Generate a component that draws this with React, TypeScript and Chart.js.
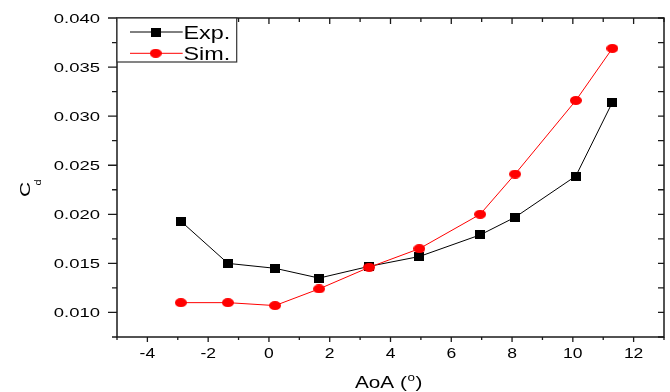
import React, { useEffect, useRef } from 'react';
import { Chart, registerables } from 'chart.js';

Chart.register(...registerables);

// Drag coefficient vs. angle of attack
const aoa = [-2.9, -1.35, 0.2, 1.65, 3.3, 4.95, 6.95, 8.1, 10.1, 11.3];
const cdExp = [0.0193, 0.015, 0.0145, 0.0135, 0.0147, 0.0157, 0.0179, 0.0197, 0.0239, 0.0314];
const cdSim = [0.011, 0.011, 0.0107, 0.0124, 0.0146, 0.0165, 0.02, 0.0241, 0.0316, 0.0369];
const seriesNames = ['Exp.', 'Sim.'];
const xMajorTicks = [-4, -2, 0, 2, 4, 6, 8, 10, 12];
const yMajorTicks = [0.01, 0.015, 0.02, 0.025, 0.03, 0.035, 0.04];

const FONT = '"Liberation Sans", Arial, sans-serif';
const AXIS_COLOR = '#1a1a1a';

function makeMarker(kind: 'square' | 'ellipse', color: string, w: number, h: number) {
  const c = document.createElement('canvas');
  c.width = w;
  c.height = h;
  const g = c.getContext('2d')!;
  g.fillStyle = color;
  if (kind === 'square') {
    g.fillRect(0, 0, w, h);
  } else {
    g.beginPath();
    g.ellipse(w / 2, h / 2, w / 2, h / 2, 0, 0, Math.PI * 2);
    g.fill();
  }
  return c;
}

function stretchedText(
  ctx: CanvasRenderingContext2D,
  text: string,
  x: number,
  y: number,
  font: string,
  sx: number,
  align: CanvasTextAlign
) {
  ctx.save();
  ctx.translate(x, y);
  ctx.scale(sx, 1);
  ctx.font = font;
  ctx.textAlign = align;
  ctx.textBaseline = 'alphabetic';
  ctx.fillText(text, 0, 0);
  ctx.restore();
}

const framePlugin = {
  id: 'originFrame',
  afterDraw(chart: any) {
    const ctx: CanvasRenderingContext2D = chart.ctx;
    const { left, right, top, bottom } = chart.chartArea;
    const xs = chart.scales.x;
    const ys = chart.scales.y;
    ctx.save();

    // axis box
    ctx.strokeStyle = AXIS_COLOR;
    ctx.lineWidth = 1.5;
    ctx.strokeRect(left, top, right - left, bottom - top);

    // y ticks: majors every 0.005, minors every 0.0025
    ctx.lineWidth = 1.3;
    for (let i = 0; ; i++) {
      const v = ys.min + i * 0.0025;
      if (v > ys.max + 1e-9) break;
      const py = ys.getPixelForValue(v);
      const major = yMajorTicks.some((t) => Math.abs(t - v) < 1e-9);
      ctx.beginPath();
      ctx.moveTo(left, py);
      ctx.lineTo(left - (major ? 9 : 5), py);
      ctx.moveTo(right, py);
      ctx.lineTo(right - 6, py);
      ctx.stroke();
    }
    // x ticks: majors every 2, minors every 1
    for (let v = xs.min; v <= xs.max + 1e-9; v += 1) {
      const px = xs.getPixelForValue(v);
      const major = xMajorTicks.includes(v);
      ctx.beginPath();
      ctx.moveTo(px, bottom);
      ctx.lineTo(px, bottom + (major ? 5 : 3));
      ctx.moveTo(px, top);
      ctx.lineTo(px, top + (major ? 6 : 4));
      ctx.stroke();
    }

    // tick labels
    ctx.fillStyle = '#000';
    ys.ticks.forEach((t: any) => {
      const py = ys.getPixelForValue(t.value);
      stretchedText(ctx, t.value.toFixed(3), 100, py + 4.7, `13px ${FONT}`, 1.42, 'right');
    });
    xs.ticks.forEach((t: any) => {
      const px = xs.getPixelForValue(t.value);
      stretchedText(ctx, String(t.value), px, 358, `14px ${FONT}`, 1.25, 'center');
    });

    // x title: AoA (°)
    ctx.save();
    ctx.translate(355, 388);
    ctx.scale(1.22, 1);
    ctx.font = `17px ${FONT}`;
    ctx.textBaseline = 'alphabetic';
    ctx.textAlign = 'left';
    const head = 'AoA (';
    const w1 = ctx.measureText(head).width;
    ctx.fillText(head, 0, 0);
    ctx.font = `11px ${FONT}`;
    const wo = ctx.measureText('o').width;
    ctx.fillText('o', w1 + 0.5, -7);
    ctx.font = `17px ${FONT}`;
    ctx.fillText(')', w1 + wo + 1, 0);
    ctx.restore();

    // y title: C with subscript d
    ctx.save();
    ctx.translate(30, 197);
    ctx.rotate(-Math.PI / 2);
    ctx.scale(1, 0.72);
    ctx.font = `21px ${FONT}`;
    ctx.textBaseline = 'alphabetic';
    ctx.fillText('C', 0, 0);
    ctx.restore();
    ctx.save();
    ctx.translate(41, 185.5);
    ctx.rotate(-Math.PI / 2);
    ctx.scale(1, 0.85);
    ctx.font = `11px ${FONT}`;
    ctx.textBaseline = 'alphabetic';
    ctx.fillText('d', 0, 0);
    ctx.restore();

    // legend box
    const lx = left;
    const ly = top;
    const lw = 236.7 - left;
    const lh = 62 - top;
    ctx.fillStyle = '#fff';
    ctx.fillRect(lx, ly, lw, lh);
    ctx.strokeStyle = '#333';
    ctx.lineWidth = 1.2;
    ctx.strokeRect(lx, ly, lw, lh);
    chart.data.datasets.forEach((ds: any, i: number) => {
      const cy = i === 0 ? 32 : 53.3;
      ctx.strokeStyle = ds.borderColor;
      ctx.lineWidth = 1;
      ctx.beginPath();
      ctx.moveTo(130, cy);
      ctx.lineTo(182.7, cy);
      ctx.stroke();
      const m = ds.pointStyle as HTMLCanvasElement;
      ctx.drawImage(m, 155.7 - m.width / 2, cy - m.height / 2);
      ctx.fillStyle = '#000';
      stretchedText(ctx, ds.label, 183.5, cy + 6.7, `18px ${FONT}`, 1.3, 'left');
    });

    ctx.restore();
  },
};

export default function App() {
  const canvasRef = useRef<HTMLCanvasElement | null>(null);

  useEffect(() => {
    const canvas = canvasRef.current;
    if (!canvas) return;
    const squareMarker = makeMarker('square', '#000000', 10, 9);
    const circleMarker = makeMarker('ellipse', '#ff0000', 12, 9);

    const chart = new Chart(canvas, {
      type: 'line',
      data: {
        datasets: [
          {
            label: seriesNames[0],
            data: aoa.map((x, i) => ({ x, y: cdExp[i] })),
            borderColor: '#000000',
            backgroundColor: '#000000',
            borderWidth: 1,
            pointStyle: squareMarker as any,
            pointRadius: 5,
            tension: 0,
            order: 1,
          },
          {
            label: seriesNames[1],
            data: aoa.map((x, i) => ({ x, y: cdSim[i] })),
            borderColor: '#ff0000',
            backgroundColor: '#ff0000',
            borderWidth: 1,
            pointStyle: circleMarker as any,
            pointRadius: 5,
            tension: 0,
            order: 0,
          },
        ],
      },
      options: {
        responsive: false,
        animation: false,
        devicePixelRatio: 1,
        layout: { padding: { top: 18, right: 4, left: 0, bottom: 0 } },
        plugins: {
          legend: { display: false },
          tooltip: { enabled: false },
        },
        events: [],
        scales: {
          x: {
            type: 'linear',
            min: -5,
            max: 13,
            grid: { display: false },
            border: { display: false },
            ticks: { display: false },
            afterBuildTicks: (scale: any) => {
              scale.ticks = xMajorTicks.map((value) => ({ value }));
            },
            afterFit: (scale: any) => {
              scale.height = 55;
            },
          },
          y: {
            type: 'linear',
            min: 0.0075,
            max: 0.04,
            grid: { display: false },
            border: { display: false },
            ticks: { display: false },
            afterBuildTicks: (scale: any) => {
              scale.ticks = yMajorTicks.map((value) => ({ value }));
            },
            afterFit: (scale: any) => {
              scale.width = 117;
            },
          },
        },
      },
      plugins: [framePlugin],
    } as any);

    return () => {
      chart.destroy();
    };
  }, []);

  return (
    <div style={{ position: 'fixed', left: 0, top: 0, width: 670, height: 392, background: '#fff' }}>
      <canvas ref={canvasRef} width={670} height={392} style={{ display: 'block' }} />
    </div>
  );
}
